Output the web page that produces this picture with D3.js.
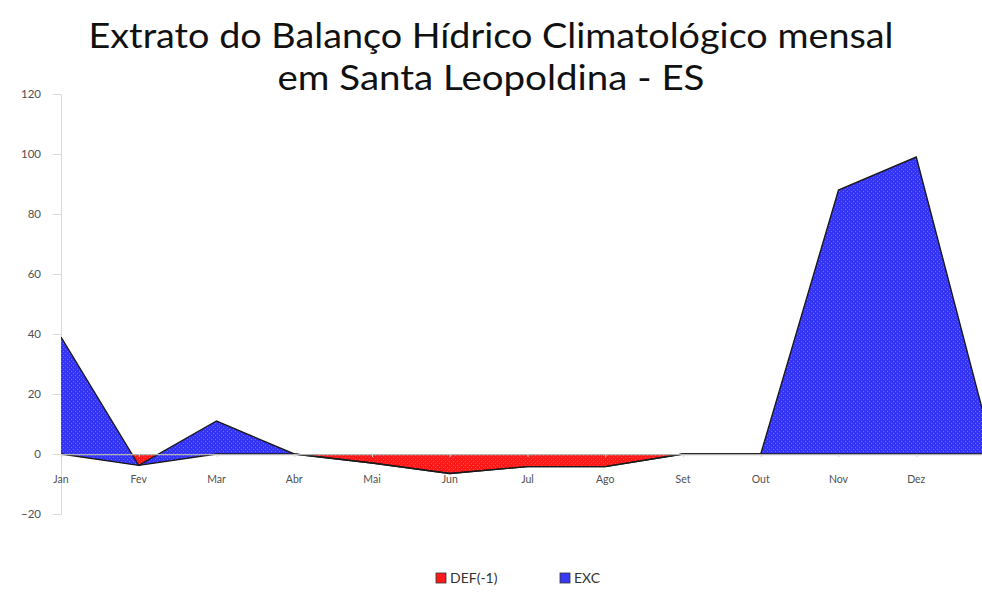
<!DOCTYPE html>
<html>
<head>
<meta charset="utf-8">
<script src="https://cdn.jsdelivr.net/npm/d3@7"></script>
<style>
  html, body { margin: 0; padding: 0; background: #fff; }
  svg { display: block; }
</style>
</head>
<body>
<svg id="chart" width="982" height="610"></svg>
<script>
// Monthly values of the water balance (mm)
const months = ["Jan", "Fev", "Mar", "Abr", "Mai", "Jun", "Jul", "Ago", "Set", "Out", "Nov", "Dez", ""];
const deficit = [0, -3.8, 0, 0, -3, -6.5, -4.2, -4.2, 0, 0, 0, 0, 0];   // DEF(-1)
const excess = [39, 0, 11, 0, 0, 0, 0, 0, 0, 0, 88, 99, 0];              // EXC
const yTicks = [-20, 0, 20, 40, 60, 80, 100, 120];
const titleLines = ["Extrato do Balanço Hídrico Climatológico mensal", "em Santa Leopoldina - ES"];
const legendItems = [{ name: "DEF(-1)", color: "#ff1a1a" }, { name: "EXC", color: "#3838f5" }];

const svg = d3.select("#chart");
const font = "Lato, 'Open Sans', 'DejaVu Sans', sans-serif";

const x = d3.scalePoint().domain(d3.range(months.length)).range([61, 994]);
const y = d3.scaleLinear().domain([-20, 120]).range([514, 94]);

// Stacked series: deficit from zero, excess on top of the deficit
const rows = months.map((m, i) => ({ i, def: deficit[i], top: deficit[i] + excess[i] }));

// Dotted fill textures
const defs = svg.append("defs");
function dotPattern(id, base, dot) {
  const p = defs.append("pattern").attr("id", id)
    .attr("width", 4).attr("height", 4).attr("patternUnits", "userSpaceOnUse");
  p.append("rect").attr("width", 4).attr("height", 4).attr("fill", base);
  p.append("rect").attr("x", 1).attr("y", 1).attr("width", 1).attr("height", 1).attr("fill", dot);
  p.append("rect").attr("x", 3).attr("y", 3).attr("width", 1).attr("height", 1).attr("fill", dot);
}
dotPattern("redDots", "#ff1a1a", "#ff5050");
dotPattern("blueDots", "#3535f8", "#6a6aff");

svg.append("clipPath").attr("id", "plotClip")
  .append("rect").attr("x", 61).attr("y", 0).attr("width", 940).attr("height", 610);

// Title (two centred lines)
const titleWidths = [805, 427];
svg.append("g").selectAll("text").data(titleLines).join("text")
  .attr("x", 491).attr("y", (d, i) => 48 + i * 42)
  .attr("text-anchor", "middle")
  .attr("font-family", font).attr("font-size", 34)
  .attr("textLength", (d, i) => titleWidths[i]).attr("lengthAdjust", "spacingAndGlyphs")
  .attr("fill", "#111")
  .text(d => d);

// Y axis
const yAxis = svg.append("g").attr("transform", "translate(61,0)")
  .call(d3.axisLeft(y).tickValues(yTicks).tickSize(8).tickPadding(12).tickFormat(d3.format("d")));
yAxis.select(".domain").attr("stroke", "#d9d9d9");
yAxis.selectAll(".tick line").attr("stroke", "#d9d9d9");
yAxis.selectAll(".tick text").attr("font-family", font).attr("font-size", 11.5).attr("fill", "#505050");

const plot = svg.append("g").attr("clip-path", "url(#plotClip)");

// Deficit area (zero to deficit)
plot.append("path").datum(rows)
  .attr("fill", "url(#redDots)")
  .attr("d", d3.area().x(d => x(d.i)).y0(y(0)).y1(d => y(d.def)));

// Excess area stacked on the deficit
plot.append("path").datum(rows)
  .attr("fill", "url(#blueDots)")
  .attr("d", d3.area().x(d => x(d.i)).y0(d => y(d.def)).y1(d => y(d.top)));

// Outlines
const lineDef = d3.line().x(d => x(d.i)).y(d => y(d.def));
const lineTop = d3.line().x(d => x(d.i)).y(d => y(d.top));
plot.append("path").datum(rows).attr("fill", "none").attr("stroke", "#1a1a1a").attr("stroke-width", 1.4).attr("d", lineDef);
plot.append("path").datum(rows).attr("fill", "none").attr("stroke", "#1a1a1a").attr("stroke-width", 1.4).attr("d", lineTop);

// Category axis along zero
const xAxis = svg.append("g").attr("transform", `translate(0,${y(0)})`).attr("clip-path", "url(#plotClip)")
  .call(d3.axisBottom(x).tickSize(3).tickFormat(() => ""));
xAxis.select(".domain").attr("stroke", "#b0b0b0").attr("stroke-width", 1.6);
xAxis.selectAll(".tick line").attr("stroke", "#d0d0d0");

// Month labels at the bottom of the plot
svg.append("g").selectAll("text").data(months).join("text")
  .attr("x", (d, i) => x(i)).attr("y", 483)
  .attr("text-anchor", "middle")
  .attr("font-family", font).attr("font-size", 10.5)
  .attr("fill", "#505050")
  .text(d => d);

// Legend
const legend = svg.append("g").attr("transform", "translate(436,578)");
const lx = [0, 124];
legendItems.forEach((it, i) => {
  const g = legend.append("g").attr("transform", `translate(${lx[i]},0)`);
  g.append("rect").attr("x", 0).attr("y", -5).attr("width", 10).attr("height", 10)
    .attr("fill", it.color).attr("stroke", "#333").attr("stroke-width", 0.8);
  g.append("text").attr("x", 14).attr("y", 5)
    .attr("font-family", font).attr("font-size", 14).attr("fill", "#333")
    .text(it.name);
});
</script>
</body>
</html>
